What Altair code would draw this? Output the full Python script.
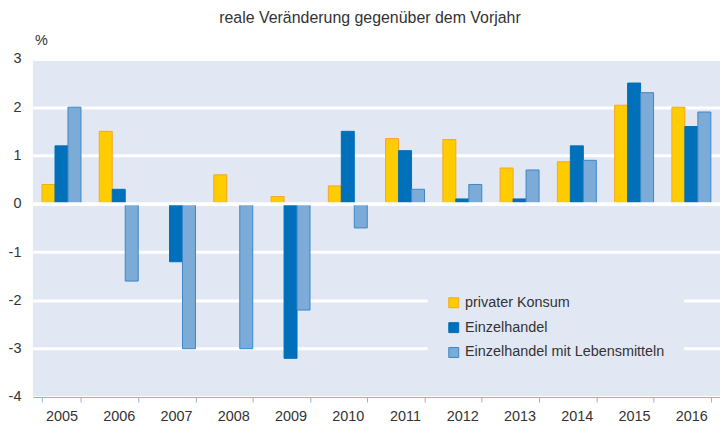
import altair as alt
import pandas as pd

years = ["2005", "2006", "2007", "2008", "2009", "2010", "2011", "2012", "2013", "2014", "2015", "2016"]
series_names = ["privater Konsum", "Einzelhandel", "Einzelhandel mit Lebensmitteln"]
privater_konsum = [0.4, 1.5, 0.0, 0.6, 0.15, 0.37, 1.35, 1.33, 0.74, 0.87, 2.04, 2.0]
einzelhandel = [1.2, 0.3, -1.2, 0.0, -3.2, 1.5, 1.1, 0.1, 0.1, 1.2, 2.5, 1.6]
einzelhandel_lebensmittel = [2.0, -1.6, -3.0, -3.0, -2.2, -0.5, 0.3, 0.4, 0.7, 0.9, 2.3, 1.9]
y_ticks = [3, 2, 1, 0, -1, -2, -3, -4]
title_text = "reale Veränderung gegenüber dem Vorjahr"

fills = ["#FFCC00", "#0070BA", "#7BABD6"]
strokes = ["#F5A623", "#0070BA", "#3B87C8"]

rows = []
for name, vals in zip(series_names, [privater_konsum, einzelhandel, einzelhandel_lebensmittel]):
    for y, v in zip(years, vals):
        rows.append({"Jahr": y, "Reihe": name, "Wert": v})
df = pd.DataFrame(rows)

FONT = "Liberation Sans"
TXT = "#333333"

legend = alt.Legend(
    title=None, orient="none", legendX=397, legendY=219,
    fillColor="#E1E8F4", padding=19, rowPadding=9,
    symbolType="square", symbolSize=100, symbolStrokeWidth=1,
    labelFont=FONT, labelFontSize=14.5, labelColor=TXT, labelOffset=4, labelLimit=0,
)

bars = alt.Chart(df).mark_bar(strokeWidth=1).encode(
    x=alt.X("Jahr:N", sort=years, title=None,
            scale=alt.Scale(paddingInner=0.32, paddingOuter=0.16),
            axis=alt.Axis(labelAngle=0, tickBand="extent", tickSize=5, tickColor="#8EB0DC",
                          domainColor="#8EB0DC", labelFont=FONT, labelFontSize=14.5,
                          labelColor=TXT, labelPadding=8, grid=False)),
    xOffset=alt.XOffset("Reihe:N", sort=series_names, scale=alt.Scale(paddingInner=0, paddingOuter=0)),
    y=alt.Y("Wert:Q", title="%",
            scale=alt.Scale(domain=[-4, 3], nice=False, zero=False),
            axis=alt.Axis(values=y_ticks, domain=False, ticks=False, grid=True,
                          gridColor="white", gridWidth=3, labelFont=FONT,
                          labelExpr="'' + datum.value",
                          labelFontSize=14.5, labelColor=TXT, labelPadding=12,
                          titleAngle=0, titleAlign="center", titleBaseline="alphabetic",
                          titleX=8, titleY=-14, titleFont=FONT, titleFontSize=14.5,
                          titleFontWeight="normal", titleColor=TXT)),
    color=alt.Color("Reihe:N", sort=series_names,
                    scale=alt.Scale(domain=series_names, range=fills), legend=legend),
    stroke=alt.Stroke("Reihe:N", sort=series_names,
                      scale=alt.Scale(domain=series_names, range=strokes), legend=legend),
)

zero = alt.Chart(pd.DataFrame({"z": [0]})).mark_rule(color="white", strokeWidth=3).encode(y="z:Q")

title = alt.Chart(pd.DataFrame({"t": [title_text]})).mark_text(
    font=FONT, fontSize=16, color=TXT, align="center", baseline="alphabetic"
).encode(text="t:N", x=alt.value(339), y=alt.value(-36))

chart = alt.layer(bars, zero, title).properties(
    width=691, height=340,
    padding={"left": 25, "top": 50, "right": 0, "bottom": 28},
    autosize=alt.AutoSizeParams(type="none"),
).configure_view(fill="#E1E8F4", stroke=None)

chart.save("out.html", embed_options={"renderer": "svg", "actions": False})
